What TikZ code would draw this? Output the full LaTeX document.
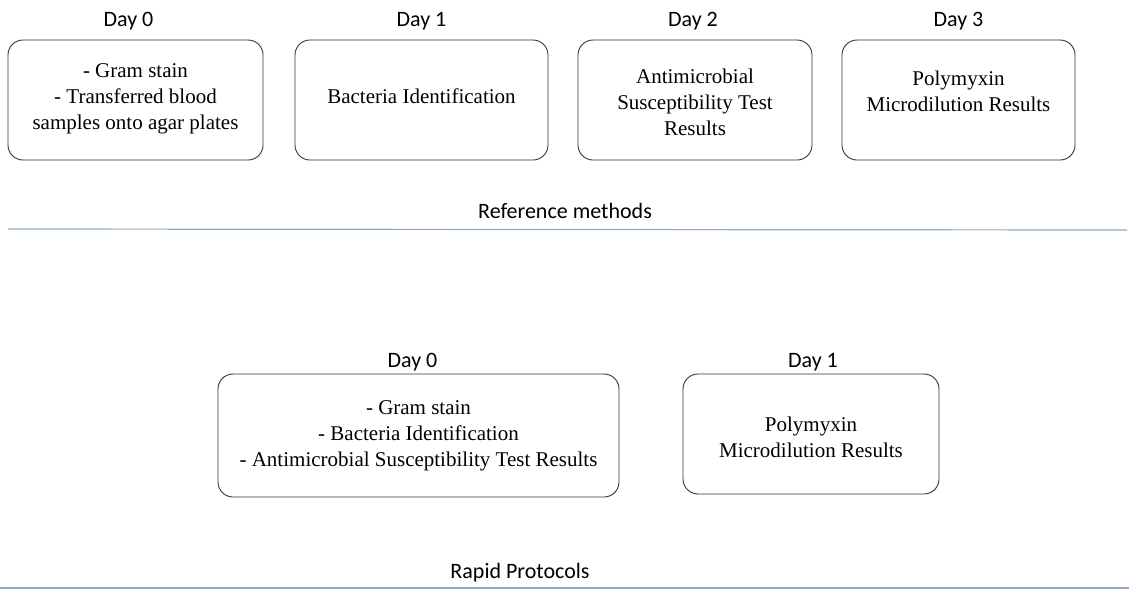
\documentclass[tikz,border=0pt]{standalone}
\usepackage{fontspec}
\setmainfont{Liberation Serif}
\newfontfamily\daysf{Carlito}
\usetikzlibrary{positioning}
\definecolor{rulecol}{RGB}{140,172,200}

\tikzset{
  daybox/.style={draw=black!80, line width=0.9pt, rounded corners=15pt, minimum height=120pt},
  boxtxt/.style={align=center, inner sep=0pt, font=\fontsize{21}{26}\selectfont},
  daylbl/.style={inner sep=0pt, font=\daysf\fontsize{22}{26}\selectfont},
  seclbl/.style={inner sep=0pt, anchor=base, font=\daysf\fontsize{22}{26}\selectfont},
  secline/.style={draw=rulecol, line width=1.2pt},
}

\begin{document}
\begin{tikzpicture}[x=1pt, y=-1pt]
    \useasboundingbox (0,0) rectangle (1129,590);

    % reference methods
    \node[daybox, minimum width=255pt] (ref0) at (135.5,100) {};
    \node[daybox, minimum width=253pt] (ref1) at (421.5,100) {};
    \node[daybox, minimum width=234pt] (ref2) at (695,100) {};
    \node[daybox, minimum width=233pt] (ref3) at (958.5,100) {};

    \node[boxtxt] (ref0-t) at (135.5,99) {- Gram stain\\- Transferred blood\\samples onto agar plates};
    \node[boxtxt] (ref1-t) at (421.5,96) {Bacteria Identification};
    \node[boxtxt] (ref2-t) at (695,102) {Antimicrobial\\Susceptibility Test\\Results};
    \node[boxtxt] (ref3-t) at (958.5,91) {Polymyxin\\Microdilution Results};

    \node[daylbl, above=9pt of ref0, xshift=-7pt] (ref0-day) {Day 0};
    \node[daylbl, above=9pt of ref1] (ref1-day) {Day 1};
    \node[daylbl, above=9pt of ref2, xshift=-2pt] (ref2-day) {Day 2};
    \node[daylbl, above=9pt of ref3] (ref3-day) {Day 3};

    \node[seclbl] (ref-lbl) at (565,218) {Reference methods};
    \coordinate (ref-l) at (8,229);
    \coordinate (ref-r) at (1127,230);
    \draw[secline] (ref-l) -- (ref-r); %

    % rapid protocols
    \node[daybox, minimum width=401pt, minimum height=123pt] (rap0) at (418.5,435.5) {};
    \node[daybox, minimum width=256pt] (rap1) at (811,434) {};

    \node[boxtxt] (rap0-t) at (418.5,436) {- Gram stain\\- Bacteria Identification\\- Antimicrobial Susceptibility Test Results};
    \node[boxtxt] (rap1-t) at (811,437) {Polymyxin\\Microdilution Results};

    \node[daylbl, above=2pt of rap0, xshift=-6pt] (rap0-day) {Day 0};
    \node[daylbl, above=2pt of rap1, xshift=2pt] (rap1-day) {Day 1};

    \node[seclbl] (rap-lbl) at (520,578) {Rapid Protocols};
    \coordinate (rap-l) at (0,588);
    \coordinate (rap-r) at (1129,588);
    \draw[secline] (rap-l) -- (rap-r); %

\end{tikzpicture}
\end{document}
